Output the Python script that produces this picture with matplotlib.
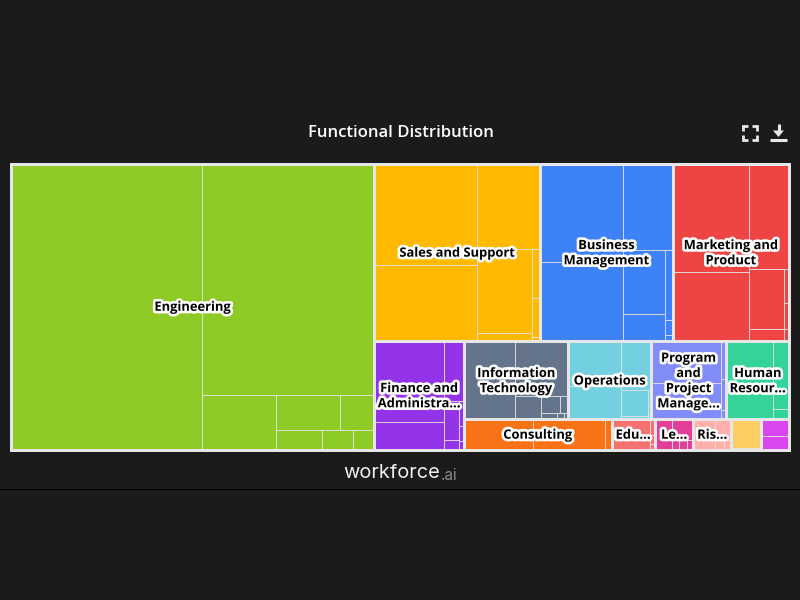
import matplotlib
matplotlib.use("Agg")
import matplotlib.pyplot as plt
from matplotlib.patches import Rectangle
import matplotlib.patheffects as pe

# DATA
group_labels = ["Engineering", "Sales and Support", "Business\nManagement", "Marketing and\nProduct",
                "Finance and\nAdministra...", "Information\nTechnology", "Operations",
                "Program\nand\nProject\nManage...", "Human\nResour...", "Consulting",
                "Edu...", "Le...", "Ris...", "", ""]

engineering = [54712, 39683, 4015, 2304, 1224, 893, 589, 399]
sales = [10400, 7800, 5400, 4675, 440, 392, 320, 32]
business = [8200, 6650, 4270, 2624, 1107, 560, 120, 48]
marketing = [8200, 5300, 4270, 2135, 420, 170, 135, 60]
finance = [5620, 1950, 1180, 560, 140, 130, 75, 45]
information_tech = [3990, 2930, 590, 330, 135, 100, 45, 25]
operations = [2360, 1760, 1440, 690, 80, 45, 24, 15]
program = [2950, 2570, 185, 155, 45]
human_res = [1945, 1666, 1103, 169]
consulting = [2087, 2156, 211]
education = [1157, 80, 45, 26]
legal = [513, 452, 70, 70, 58]
risk = [649, 336, 88, 60]
facilities = [824, 50, 47]
other = [459, 371]

group_values = [engineering, sales, business, marketing, finance, information_tech, operations,
                program, human_res, consulting, education, legal, risk, facilities, other]

group_colors = ["#8ecb26", "#ffb900", "#3e82f7", "#ef4444", "#9333ea", "#64748b", "#73d0e0",
                "#818cf8", "#34d399", "#f97316", "#f87171", "#e23f98", "#ffb0a8", "#fdce63", "#d946ef"]

BG = "#1b1b1b"
BORDER = "#e6e6e6"
ICON = "#e8e8e8"
FONT = "Open Sans"


def aspect(w, h):
    return max(w / h, h / w)


def worse(row, area, side):
    # does the newest cell in the row get less square if one more is added?
    total = sum(row)
    old = total / side
    new = (total + area) / side
    return aspect(new, row[-1] / new) > aspect(old, row[-1] / old)


def squarify(values, x, y, w, h):
    scale = w * h / sum(values)
    rects = []
    vertical = True

    def flush(row, x, y, w, h, vertical):
        total = sum(row)
        if vertical:
            cw = total / h
            cy = y
            for a in row:
                rects.append((x, cy, cw, a / cw))
                cy += a / cw
            return x + cw, y, w - cw, h
        ch = total / w
        cx = x
        for a in row:
            rects.append((cx, y, a / ch, ch))
            cx += a / ch
        return x, y + ch, w, h - ch

    row = []
    for v in values:
        area = v * scale
        if row and worse(row, area, h if vertical else w):
            x, y, w, h = flush(row, x, y, w, h, vertical)
            vertical = not vertical
            row = []
        row.append(area)
    flush(row, x, y, w, h, vertical)
    return rects


fig = plt.figure(figsize=(8, 6), dpi=100, facecolor=BG)
ax = fig.add_axes([0, 0, 1, 1])
ax.set_xlim(0, 800)
ax.set_ylim(600, 0)
ax.axis("off")

totals = [sum(v) for v in group_values]
groups = squarify(totals, 11, 163.5, 778, 286)

for rect, vals, color in zip(groups, group_values, group_colors):
    for cx, cy, cw, ch in squarify(vals, *rect):
        ax.add_patch(Rectangle((cx, cy), cw, ch, facecolor=color, edgecolor=(0.9, 0.9, 0.9, 0.8),
                               linewidth=0.72, zorder=2))

for rect, label in zip(groups, group_labels):
    x, y, w, h = rect
    ax.add_patch(Rectangle((x, y), w, h, facecolor="none", edgecolor=BORDER, linewidth=2.16, zorder=3))
    ax.text(x + w / 2, y + h / 2 + 0.8, label, ha="center", va="center", color="black", fontsize=9.3,
            fontweight="bold", family=FONT, linespacing=1.22, zorder=4,
            path_effects=[pe.withStroke(linewidth=3.8, foreground="white")])

ax.text(400.5, 133, "Functional Distribution", ha="center", va="center", color="white",
        fontsize=12, fontweight="semibold", family=FONT)

# fullscreen icon
for xs, ys in [([742.5, 742.5, 747.5], [131, 125.5, 125.5]), ([752, 757, 757], [125.5, 125.5, 131]),
               ([742.5, 742.5, 747.5], [134.5, 139.5, 139.5]), ([752, 757, 757], [139.5, 139.5, 134.5])]:
    ax.plot(xs, ys, color=ICON, linewidth=2.0, solid_capstyle="butt", solid_joinstyle="miter")

# download icon
ax.plot([778.5, 778.5], [124, 131], color=ICON, linewidth=2.2, solid_capstyle="butt")
ax.fill([773, 784, 778.5], [130.5, 130.5, 137], color=ICON, linewidth=0)
ax.plot([770, 787], [139.5, 139.5], color=ICON, linewidth=2.2, solid_capstyle="butt")

# logo
ax.text(343, 473, "workforce", ha="left", va="center", color="#f0f0f0", fontsize=14.4, family="Inter")
ax.text(441, 475, ".ai", ha="left", va="center", color="#8a8a8a", fontsize=11, family="Inter")

# bottom rule
ax.plot([0, 800], [489, 489], color="#000000", linewidth=0.72)

fig.savefig("out.png", dpi=100, facecolor=BG)
